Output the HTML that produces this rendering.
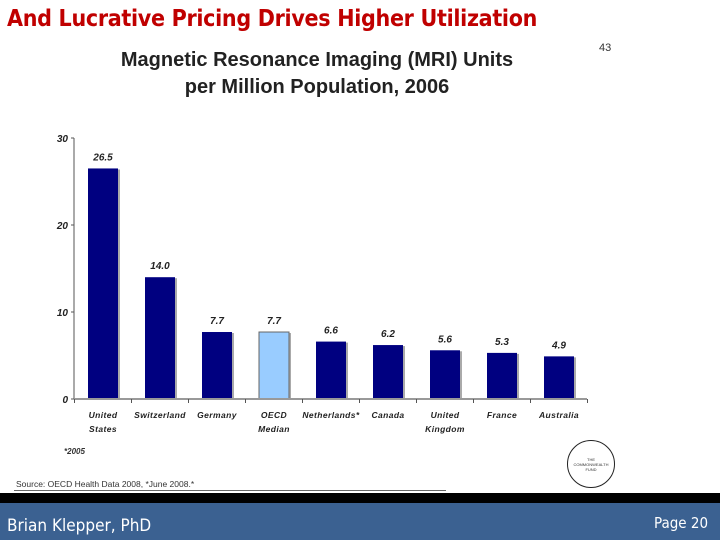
<!DOCTYPE html>
<html><head><meta charset="utf-8"><style>
body{margin:0;width:720px;height:540px;overflow:hidden;background:#fff;position:relative;font-family:"Liberation Sans",sans-serif}
.t{position:absolute;white-space:nowrap}
</style></head><body>
<div class="t" style="left:7px;top:6px;font-size:23px;font-weight:bold;color:#c00000;font-family:'DejaVu Sans Condensed','Liberation Sans',sans-serif;letter-spacing:-0.3px">And Lucrative Pricing Drives Higher Utilization</div>
<div class="t" style="left:97px;top:47px;width:440px;text-align:center;font-size:20px;font-weight:bold;color:#222;line-height:27px">Magnetic Resonance Imaging (MRI) Units<br>per Million Population, 2006</div>
<div class="t" style="left:599px;top:42px;font-size:11px;color:#333">43</div>
<svg id="chart" width="720" height="540" style="position:absolute;left:0;top:0"></svg>
<div class="t" style="left:64px;top:447px;font-size:8px;font-style:italic;font-weight:bold;color:#333">*2005</div>
<div class="t" style="left:16px;top:479px;font-size:8.5px;color:#333">Source: OECD Health Data 2008, *June 2008.*</div>
<div style="position:absolute;left:14px;top:490px;width:432px;height:1px;background:#666"></div>
<div style="position:absolute;left:567px;top:440px;width:46px;height:46px;border:1.5px solid #222;border-radius:50%;font-size:4px;text-align:center;line-height:5px;color:#333"><div style="margin-top:16px">THE<br>COMMONWEALTH<br>FUND</div></div>
<div style="position:absolute;left:0;top:493px;width:720px;height:10px;background:#000"></div>
<div style="position:absolute;left:0;top:503px;width:720px;height:37px;background:#3b6191"></div>
<div class="t" style="left:7px;top:516px;font-size:17px;color:#fff;font-family:'DejaVu Sans Condensed','Liberation Sans',sans-serif">Brian Klepper, PhD</div>
<div class="t" style="left:654px;top:514px;font-size:15px;color:#fff;font-family:'DejaVu Sans Condensed','Liberation Sans',sans-serif">Page 20</div>
<script>
const categories=[["United","States"],["Switzerland"],["Germany"],["OECD","Median"],["Netherlands*"],["Canada"],["United","Kingdom"],["France"],["Australia"]];
const values=[26.5,14.0,7.7,7.7,6.6,6.2,5.6,5.3,4.9];
const valueLabels=["26.5","14.0","7.7","7.7","6.6","6.2","5.6","5.3","4.9"];
const highlight=[false,false,false,true,false,false,false,false,false];
const ticks=[0,10,20,30];
const svg=document.getElementById('chart');const NS='http://www.w3.org/2000/svg';
const y0=399,yTop=138,xAxis=74,xEnd=587,step=57,x0=88,bw=30;
const y=v=>y0-(v/30)*(y0-yTop);
const xc=i=>x0+i*step;
function mk(t,a){const e=document.createElementNS(NS,t);for(const k in a)e.setAttribute(k,a[k]);svg.appendChild(e);return e;}
let e=mk('line',{x1:xAxis,y1:yTop,x2:xAxis,y2:y0,stroke:'#555','stroke-width':1});

ticks.forEach(t=>{
 let l=mk('line',{x1:xAxis-3,x2:xAxis,y1:y(t),y2:y(t),stroke:'#555'});
 
 let tx=mk('text',{x:xAxis-6,y:y(t)+4,'text-anchor':'end','font-size':10,'font-weight':'bold','font-style':'italic',fill:'#222'});tx.textContent=t;
 
});
values.forEach((v,i)=>{
 let s=mk('rect',{x:xc(i)+2,y:y(v)+1,width:bw,height:y0-y(v)-1,fill:'#aaa'});
 
 let r=mk('rect',{x:xc(i),y:y(v),width:bw,height:y0-y(v),fill:highlight[i]?'#99ccff':'#000080',stroke:highlight[i]?'#666':'none'});
 
 let t=mk('text',{x:xc(i)+bw/2,y:y(v)-8,'text-anchor':'middle','font-size':10,'font-weight':'bold','font-style':'italic',fill:'#222'});t.textContent=valueLabels[i];
 
 categories[i].forEach((ln,j)=>{let c=mk('text',{x:xc(i)+bw/2,y:418+j*14,'text-anchor':'middle','font-size':8.5,'font-weight':'bold','font-style':'italic',fill:'#222','letter-spacing':0.4});c.textContent=ln;
 });
});
e=mk('line',{x1:xAxis,y1:y0,x2:xEnd,y2:y0,stroke:'#999','stroke-width':2});

for(let i=0;i<=values.length;i++){let tk=mk('line',{x1:xc(i)-13.5,x2:xc(i)-13.5,y1:y0,y2:y0+4,stroke:'#555'});
 }
</script>
</body></html>
